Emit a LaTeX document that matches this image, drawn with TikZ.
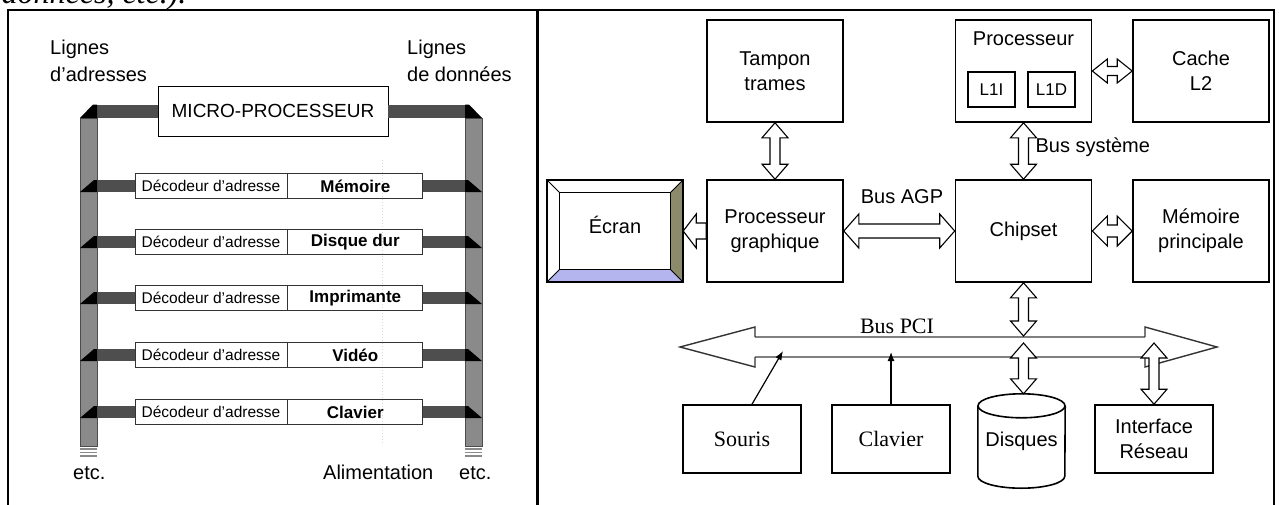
\documentclass[tikz,border=0pt]{standalone}
\usepackage{fontspec}
\setmainfont{Liberation Sans}
\newfontfamily\seriffont{Liberation Serif}
\usetikzlibrary{arrows.meta,calc}
\definecolor{busgray}{RGB}{138,138,138}
\definecolor{stubgray}{RGB}{78,78,78}
\definecolor{olivebevel}{RGB}{139,139,108}
\definecolor{bluebevel}{RGB}{180,180,238}
\definecolor{pcigray}{RGB}{128,128,128}
\newcommand{\fatV}[4]{\draw[fat] let \p1=(#1), \p2=(#2) in
  (\x1,\y1) -- (\x1+#3pt,\y1-15pt) -- (\x1+#4pt,\y1-15pt) -- (\x1+#4pt,\y2+15pt) -- (\x1+#3pt,\y2+15pt) -- (\x1,\y2)
  -- (\x1-#3pt,\y2+15pt) -- (\x1-#4pt,\y2+15pt) -- (\x1-#4pt,\y1-15pt) -- (\x1-#3pt,\y1-15pt) -- cycle;}
\newcommand{\fatH}[4]{\draw[fat] let \p1=(#1), \p2=(#2) in
  (\x1,\y1) -- (\x1+15pt,\y1+#3pt) -- (\x1+15pt,\y1+#4pt) -- (\x2-15pt,\y1+#4pt) -- (\x2-15pt,\y1+#3pt) -- (\x2,\y1)
  -- (\x2-15pt,\y1-#3pt) -- (\x2-15pt,\y1-#4pt) -- (\x1+15pt,\y1-#4pt) -- (\x1+15pt,\y1-#3pt) -- cycle;}
\begin{document}
\begin{tikzpicture}[x=1pt,y=-1pt]
  \tikzset{box/.style={draw,line width=1.6pt,minimum width=136pt,minimum height=102pt,inner sep=0pt,align=center,font=\fontsize{20}{25}\selectfont}}
  \tikzset{smallbox/.style={box,minimum width=118pt,minimum height=68pt}}
  \tikzset{cachebox/.style={draw,line width=1.3pt,minimum width=47pt,minimum height=35pt,inner sep=0pt,font=\fontsize{17}{17}\selectfont}}
  \tikzset{fat/.style={draw,line width=1.1pt,fill=white,line join=miter}}
  \tikzset{dec/.style={draw=black!80,line width=0.8pt,minimum width=152pt,minimum height=25pt,inner sep=0pt,font=\fontsize{15.5}{15.5}\selectfont}}
  \tikzset{dev/.style={dec,minimum width=135pt,font=\bfseries\fontsize{17}{17}\selectfont}}
  \tikzset{lbl/.style={inner sep=0pt,align=left,font=\fontsize{20}{27}\selectfont}}
  \tikzset{txt/.style={font=\fontsize{20}{20}\selectfont}}
  \tikzset{stxt/.style={font=\seriffont\fontsize{22}{22}\selectfont}}
  \tikzset{stub/.style={fill=stubgray}}
  \tikzset{bar/.style={fill=busgray,draw=black!70,line width=0.8pt}}
  \tikzset{pointer/.style={line width=1.2pt,-{Latex[length=9pt,width=7pt]}}}
  \useasboundingbox (0,0) rectangle (1279,504);

  \node[anchor=base east,font=\seriffont\itshape\fontsize{32}{32}\selectfont] (capt) at (190,3) {données, etc.).};
  \draw[line width=2.5pt] (8,530) -- (8,10) -- (1274,10) -- (1274,530);
  \draw[line width=2.5pt] (537.5,10) -- (537.5,530);

  \node[lbl,anchor=north west] (addrlbl) at (50,40) {Lignes\\d'adresses};
  \node[lbl,anchor=north west] (datalbl) at (407,40) {Lignes\\de données};
  \draw[black!15,dotted,line width=1pt] (382,160) -- (382,445);
  \draw[bar] (80,118) rectangle (97,446);
  \draw[bar] (465,118) rectangle (482,446);
  \foreach \s in {449,452.5,456} {
    \draw[busgray,line width=1.2pt] (80,\s) -- (97,\s);
    \draw[busgray,line width=1.2pt] (465,\s) -- (482,\s);
  }
  \node[draw,line width=0.8pt,minimum width=230pt,minimum height=50pt,font=\fontsize{19}{19}\selectfont] (micro) at (273,111) {MICRO-PROCESSEUR};
  \fill[stub] ($(micro.west)+(0,-6.5)$) rectangle (93,117.5);
  \fill[stub] ($(micro.east)+(0,-6.5)$) rectangle (469,117.5);
  \fill[black] (80,118) -- (93,104.5) -- (97,104.5) -- (97,118) -- cycle;
  \fill[black] (482,118) -- (469,104.5) -- (465,104.5) -- (465,118) -- cycle;
  \foreach \y/\dev [count=\i] in {186/Mémoire,242/Disque dur,298/Imprimante,355/Vidéo,412/Clavier} {
    \node[dec] (dec\i) at (211,\y) {Décodeur d'adresse};
    \node[dev,anchor=west] (dev\i) at (dec\i.east) {\dev};
    \fill[stub] ($(dec\i.west)+(0,-6)$) rectangle ($(dec\i.west)+(-38,6)$);
    \fill[stub] ($(dev\i.east)+(0,-6)$) rectangle ($(dev\i.east)+(43,6)$);
    \fill[black] (80,\y+6) -- (94,\y-6) -- (97,\y-6) -- (97,\y+6) -- cycle;
    \fill[black] (482,\y+6) -- (468,\y-6) -- (465,\y-6) -- (465,\y+6) -- cycle;
  }
  \node[lbl,anchor=base west] (etcl) at (73,479) {etc.};
  \node[lbl,anchor=base west] (alim) at (323,479) {Alimentation};
  \node[lbl,anchor=base west] (etcr) at (459,479) {etc.};

  \node[box] (tampon) at (775,71) {Tampon\\trames};
  \node[box] (procg) at (775,231) {Processeur\\graphique};
  \node[box] (proc) at (1023.5,71) {};
  \node[box] (cache) at (1201,71) {Cache\\L2};
  \node[box] (chipset) at (1023.5,231) {Chipset};
  \node[box] (memp) at (1201,231) {Mémoire\\principale};
  \node[txt] (proct) at (1023.5,39) {Processeur};
  \node[cachebox] (l1i) at (991.5,89.5) {L1I};
  \node[cachebox] (l1d) at (1051.5,89.5) {L1D};

  \node[minimum width=136pt,minimum height=102pt,inner sep=0pt] (ecran) at (615,231) {};
  \fill[olivebevel] (ecran.north east) -- ($(ecran.north east)+(-13,13)$) -- ($(ecran.south east)+(-13,-13)$) -- (ecran.south east) -- cycle;
  \fill[bluebevel] (ecran.south west) -- ($(ecran.south west)+(13,-13)$) -- ($(ecran.south east)+(-13,-13)$) -- (ecran.south east) -- cycle;
  \draw[line width=0.8pt] ($(ecran.north west)+(13,13)$) rectangle ($(ecran.south east)+(-13,-13)$);
  \draw[line width=0.8pt] (ecran.north west) -- ++(13,13) (ecran.north east) -- ++(-13,13)
    (ecran.south west) -- ++(13,-13) (ecran.south east) -- ++(-13,-13);
  \draw[line width=1.6pt] (ecran.north west) rectangle (ecran.south east);
  \node[txt] (ecrant) at ($(ecran.center)+(0,-6)$) {Écran};

  \node[smallbox,stxt] (souris) at (742,439) {Souris};
  \node[smallbox,stxt] (clavier) at (891,439) {Clavier};
  \node[smallbox] (iface) at (1154,439) {Interface\\Réseau};
  \node[minimum width=87pt,minimum height=94pt,inner sep=0pt,txt] (disques) at (1021.5,441) {Disques};
  \draw[line width=1.6pt] ($(disques.north west)+(0,12)$) -- ($(disques.south west)+(0,-12)$)
    arc[start angle=180,end angle=360,x radius=43.5pt,y radius=12pt] -- ($(disques.north east)+(0,12)$);
  \draw[line width=1.6pt] ($(disques.north)+(0,12)$) ellipse[x radius=43.5pt,y radius=12pt];

  \coordinate (pciL) at (680,347);
  \coordinate (pciR) at (1217,347);
  \draw[pcigray,line width=2pt] (755,337) -- (1145,337) (755,357) -- (1145,357);
  \draw[black!80,line width=1.4pt,line join=miter] (755,337) -- (755,327) -- (pciL) -- (755,367) -- (755,357);
  \draw[black!80,line width=1.4pt,line join=miter] (1145,337) -- (1145,327) -- (pciR) -- (1145,367) -- (1145,357);
  \node[anchor=base,stxt] (bpci) at (897,333) {Bus PCI};
  \coordinate (pcia) at (1023.5,336);
  \coordinate (pcib) at (1023.5,343);
  \coordinate (pcic) at (1154,343);
  \coordinate (sourisend) at (783,351);
  \coordinate (clavierend) at (891,352);

  \fatV{tampon.south}{procg.north}{13}{5}
  \fatV{proc.south}{chipset.north}{13}{5}
  \fatH{proc.east}{cache.west}{12}{4.5}
  \fatH{procg.east}{chipset.west}{17}{7}
  \fatH{chipset.east}{memp.west}{15}{6}
  \draw[fat] let \p1=(procg.west), \p2=(ecran.east) in
    (\x2,\y1) -- (\x2+13pt,\y1+17pt) -- (\x2+13pt,\y1+8pt) -- (\x1,\y1+8pt) -- (\x1,\y1-8pt)
    -- (\x2+13pt,\y1-8pt) -- (\x2+13pt,\y1-17pt) -- cycle;
  \fatV{chipset.south}{pcia}{13}{5}
  \fatV{pcib}{disques.north}{13}{5}
  \fatV{pcic}{iface.north}{13}{5}
  \draw[pointer] ($(souris.north)+(10,0)$) -- (sourisend);
  \draw[pointer] (clavier.north) -- (clavierend);
  \node[txt] (agp) at (902,197) {Bus AGP};
  \node[anchor=west,txt] (bsys) at (1032,147) {Bus système};
\end{tikzpicture}
\end{document}
